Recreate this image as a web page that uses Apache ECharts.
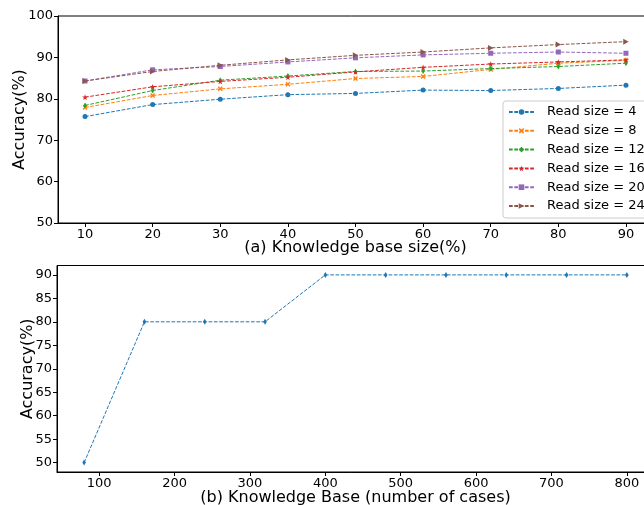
<!DOCTYPE html>
<html><head><meta charset="utf-8">
<script src="https://cdn.jsdelivr.net/npm/echarts@6/dist/echarts.min.js"></script>
<style>html,body{margin:0;padding:0;background:#fff}#c{width:644px;height:505px}</style>
</head><body><div id="c"></div>
<script>
// Top panel data
var kbSize = [10, 20, 30, 40, 50, 60, 70, 80, 90];
var read4  = [75.7, 78.6, 79.9, 81.0, 81.3, 82.1, 82.0, 82.5, 83.3];
var read8  = [77.9, 80.8, 82.4, 83.5, 84.9, 85.4, 87.1, 88.6, 89.3];
var read12 = [78.4, 82.0, 84.5, 85.5, 86.6, 86.7, 87.3, 87.8, 88.6];
var read16 = [80.4, 82.9, 84.2, 85.2, 86.5, 87.6, 88.4, 88.9, 89.4];
var read20 = [84.3, 87.0, 87.8, 88.9, 89.9, 90.6, 91.0, 91.3, 91.0];
var read24 = [84.3, 86.6, 88.1, 89.4, 90.5, 91.3, 92.3, 93.1, 93.8];
var topXTicks = [10, 20, 30, 40, 50, 60, 70, 80, 90];
var topYTicks = [50, 60, 70, 80, 90, 100];
// Bottom panel data
var kbCases = [80, 160, 240, 320, 400, 480, 560, 640, 720, 800];
var kbAcc   = [50, 80, 80, 80, 90, 90, 90, 90, 90, 90];
var botXTicks = [100, 200, 300, 400, 500, 600, 700, 800];
var botYTicks = [50, 55, 60, 65, 70, 75, 80, 85, 90];

var names = ['Read size = 4','Read size = 8','Read size = 12','Read size = 16','Read size = 20','Read size = 24'];
var colors = ['#1f77b4','#ff7f0e','#2ca02c','#d62728','#9467bd','#8c564b'];
var symbols = [
  'circle',
  'path://M-1,-0.6 L-0.6,-1 L0,-0.4 L0.6,-1 L1,-0.6 L0.4,0 L1,0.6 L0.6,1 L0,0.4 L-0.6,1 L-1,0.6 L-0.4,0 Z',
  'path://M0,-1 L0.6,0 L0,1 L-0.6,0 Z',
  'path://M0,-1 L0.2245,-0.309 L0.951,-0.309 L0.363,0.118 L0.588,0.809 L0,0.382 L-0.588,0.809 L-0.363,0.118 L-0.951,-0.309 L-0.2245,-0.309 Z',
  'rect',
  'path://M-0.8,-1 L1,0 L-0.8,1 Z'
];
var sizes = [5, 5, 6, 6, 5, 6];
var topData = [read4, read8, read12, read16, read20, read24];
var FONT = 'DejaVu Sans';

function pairs(xs, ys){ return xs.map(function(x,i){ return [x, ys[i]]; }); }

var series = topData.map(function(d, i){
  return {
    name: names[i], type: 'line', xAxisIndex: 0, yAxisIndex: 0,
    data: pairs(kbSize, d),
    symbol: symbols[i], symbolSize: sizes[i], symbolKeepAspect: true,
    showAllSymbol: true,
    lineStyle: { color: colors[i], width: 1, type: [3.7, 1.6] },
    itemStyle: { color: colors[i], borderWidth: 0 },
    emphasis: { disabled: true }, animation: false, z: 2 + i
  };
});
series.push({
  name: 'kb', type: 'line', xAxisIndex: 1, yAxisIndex: 1,
  data: pairs(kbCases, kbAcc),
  symbol: 'path://M0,-1 L0.6,0 L0,1 L-0.6,0 Z', symbolSize: 6, symbolKeepAspect: true,
  lineStyle: { color: '#1f77b4', width: 1, type: [3.7, 1.6] },
  itemStyle: { color: '#1f77b4', borderWidth: 0 },
  emphasis: { disabled: true }, animation: false
});

function axisCommon(ticks){
  return {
    nameMoveOverlap: false,
    axisLine: { show: true, onZero: false, lineStyle: { color: '#000', width: 1 } },
    axisTick: { show: true, inside: false, length: 4, lineStyle: { color: '#000' }, customValues: ticks },
    axisLabel: { color: '#000', fontFamily: FONT, fontSize: 13, margin: 5, customValues: ticks },
    splitLine: { show: false }
  };
}

var chart = echarts.init(document.getElementById('c'), null, { renderer: 'canvas' });
chart.setOption({
  backgroundColor: '#fff',
  animation: false,
  grid: [
    { left: 58, top: 16, width: 595, height: 207, show: true, borderColor: '#000', borderWidth: 1, backgroundColor: 'transparent', outerBoundsMode: 'none', containLabel: false },
    { left: 57, top: 265.5, width: 597, height: 206.5, show: true, borderColor: '#000', borderWidth: 1, backgroundColor: 'transparent', outerBoundsMode: 'none', containLabel: false }
  ],
  xAxis: [
    Object.assign({ type: 'value', gridIndex: 0, min: 6, max: 94,
      name: '(a) Knowledge base size(%)', nameLocation: 'middle', nameGap: 17,
      nameTextStyle: { fontFamily: FONT, fontSize: 16, color: '#000', verticalAlign: 'top' } }, axisCommon(topXTicks)),
    Object.assign({ type: 'value', gridIndex: 1, min: 44, max: 836,
      name: '(b) Knowledge Base (number of cases)', nameLocation: 'middle', nameGap: 18,
      nameTextStyle: { fontFamily: FONT, fontSize: 16, color: '#000', verticalAlign: 'top' } }, axisCommon(botXTicks))
  ],
  yAxis: [
    Object.assign({ type: 'value', gridIndex: 0, min: 50, max: 100,
      name: 'Accuracy(%)', nameLocation: 'middle', nameGap: 30,
      nameTextStyle: { fontFamily: FONT, fontSize: 16, color: '#000', verticalAlign: 'bottom' } }, axisCommon(topYTicks)),
    Object.assign({ type: 'value', gridIndex: 1, min: 48, max: 92,
      name: 'Accuracy(%)', nameLocation: 'middle', nameGap: 21,
      nameTextStyle: { fontFamily: FONT, fontSize: 16, color: '#000', verticalAlign: 'bottom' } }, axisCommon(botYTicks))
  ],
  legend: {
    data: names, orient: 'vertical', left: 503, top: 101,
    itemWidth: 25, itemHeight: 7, itemGap: 4.8,
    padding: [4, 20, 5, 5],
    backgroundColor: 'rgba(255,255,255,0.8)', borderColor: '#ccc', borderWidth: 1, borderRadius: 3,
    textStyle: { fontFamily: FONT, fontSize: 13, lineHeight: 14, color: '#000', padding: [0, 0, 0, 8] },
    selectedMode: false
  },
  series: series
});
</script></body></html>
